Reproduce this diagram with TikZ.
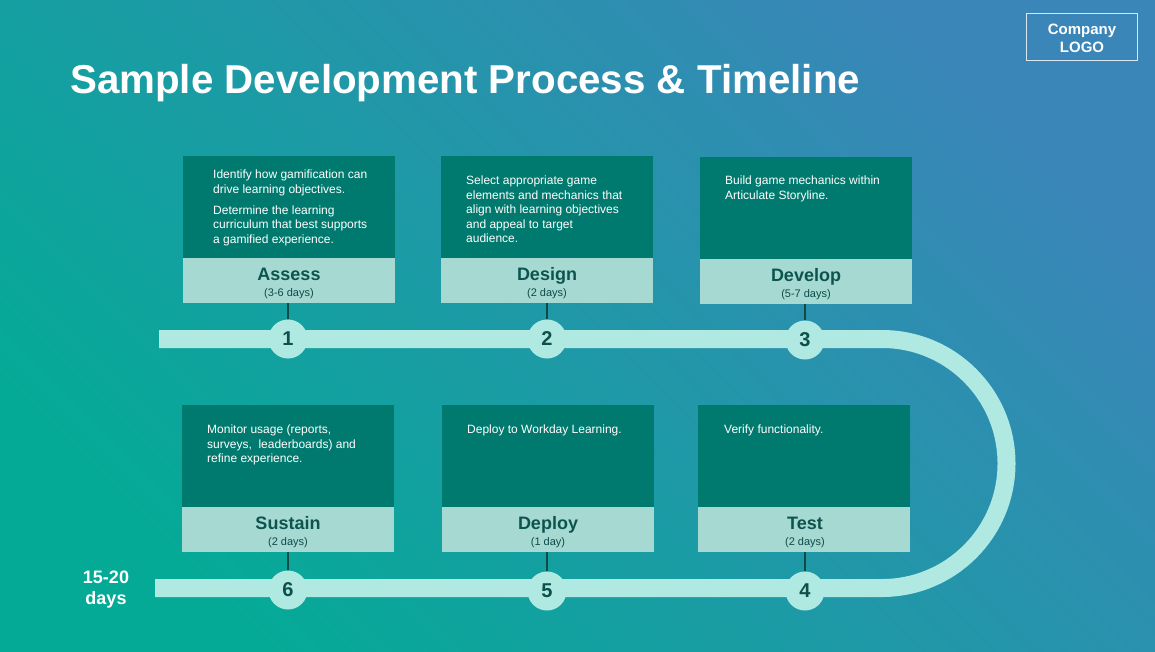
\documentclass[tikz,border=0pt]{standalone}
\usepackage{fontspec}
\setmainfont{Liberation Sans}
\definecolor{bgTR}{HTML}{3A86B8}
\definecolor{bgBL}{HTML}{05AA97}
\definecolor{darkbox}{HTML}{007A6E}
\definecolor{lightbox}{HTML}{A7D9D3}
\definecolor{trackc}{HTML}{AFE9E2}
\definecolor{lbltext}{HTML}{0D5450}
\definecolor{numtext}{HTML}{0D4F4A}
\definecolor{connc}{HTML}{114B47}
\begin{document}
\begin{tikzpicture}[x=1pt,y=-1pt,
  dbox/.style={fill=darkbox,draw=none,anchor=north west,minimum width=212pt,minimum height=102pt,inner sep=0pt},
  lbox/.style={fill=lightbox,draw=none,anchor=north west,minimum width=212pt,minimum height=45pt,inner sep=0pt},
  desc/.style={anchor=north west,inner sep=0pt,align=left,text=white,font=\fontsize{12}{14.5}\selectfont},
  lbl/.style={anchor=base,inner sep=0pt,text=lbltext,font=\bfseries\fontsize{18}{20}\selectfont},
  days/.style={anchor=base,inner sep=0pt,text=lbltext!90!black,font=\fontsize{11}{13}\selectfont},
  num/.style={circle,fill=trackc,minimum size=39pt,inner sep=0pt,text=numtext,font=\bfseries\fontsize{20}{22}\selectfont},
  conn/.style={draw=connc,line width=2pt},
  track/.style={draw=trackc,line width=18pt}]
\shade[top color=bgTR,bottom color=bgBL,shading angle=-45] (0,0) rectangle (1155,651);
\useasboundingbox (0,0) rectangle (1155,651);

% title
\node[anchor=base west,inner sep=0pt,text=white,font=\bfseries\fontsize{40.3}{44}\selectfont] (title) at (70,93) {Sample Development Process \& Timeline};

% logo
\node[draw=white!80!bgTR,line width=1pt,minimum width=111pt,minimum height=47pt,anchor=north west,inner sep=0pt] (logo) at (1026,13) {};
\node[align=center,text=white,font=\bfseries\fontsize{15}{18}\selectfont] (logotext) at ([yshift=-1pt]logo.center) {Company\\LOGO};

% track
\draw[track] (159,339) -- (882,339) arc[start angle=-90,end angle=90,radius=124.5] -- (155,588);

% circles
\node[num] (n1) at (288,339) {1};
\node[num] (n2) at (547,339) {2};
\node[num] (n3) at (805,340) {3};
\node[num] (n4) at (805,591) {4};
\node[num] (n5) at (547,591) {5};
\node[num] (n6) at (288,590) {6};

% boxes top
\node[dbox] (d1) at (183,156) {};
\node[lbox] (l1) at (183,258) {};
\node[dbox] (d2) at (441,156) {};
\node[lbox] (l2) at (441,258) {};
\node[dbox] (d3) at (700,157) {};
\node[lbox] (l3) at (700,259) {};
% boxes bottom
\node[dbox] (d6) at (182,405) {};
\node[lbox] (l6) at (182,507) {};
\node[dbox] (d5) at (442,405) {};
\node[lbox] (l5) at (442,507) {};
\node[dbox] (d4) at (698,405) {};
\node[lbox] (l4) at (698,507) {};

% connectors
\draw[conn] (n1.north) -- (n1.north |- l1.south);
\draw[conn] (n2.north) -- (n2.north |- l2.south);
\draw[conn] (n3.north) -- (n3.north |- l3.south);
\draw[conn] (n6.north) -- (n6.north |- l6.south);
\draw[conn] (n5.north) -- (n5.north |- l5.south);
\draw[conn] (n4.north) -- (n4.north |- l4.south);

% descriptions
\node[desc] (t1) at (213,170) {Identify how gamification can\\drive learning objectives.\\[6.5pt]Determine the learning\\curriculum that best supports\\a gamified experience.};
\node[desc] (t2) at (466,176) {Select appropriate game\\elements and mechanics that\\align with learning objectives\\and appeal to target\\audience.};
\node[desc] (t3) at (725,176) {Build game mechanics within\\Articulate Storyline.};
\node[desc] (t6) at (207,425) {Monitor usage (reports,\\surveys,\ \ leaderboards) and\\refine experience.};
\node[desc] (t5) at (467,425) {Deploy to Workday Learning.};
\node[desc] (t4) at (724,425) {Verify functionality.};

% labels
\node[lbl] (a1) at (289,280) {Assess};
\node[days] (a1d) at (289,296) {(3-6 days)};
\node[lbl] (a2) at (547,280) {Design};
\node[days] (a2d) at (547,296) {(2 days)};
\node[lbl] (a3) at (806,281) {Develop};
\node[days] (a3d) at (806,297) {(5-7 days)};
\node[lbl] (a6) at (288,529) {Sustain};
\node[days] (a6d) at (288,545) {(2 days)};
\node[lbl] (a5) at (548,529) {Deploy};
\node[days] (a5d) at (548,545) {(1 day)};
\node[lbl] (a4) at (805,529) {Test};
\node[days] (a4d) at (805,545) {(2 days)};

% total
\node[align=center,text=white,font=\bfseries\fontsize{18}{21}\selectfont] (total) at (106,590) {15-20\\days};
\end{tikzpicture}
\end{document}
